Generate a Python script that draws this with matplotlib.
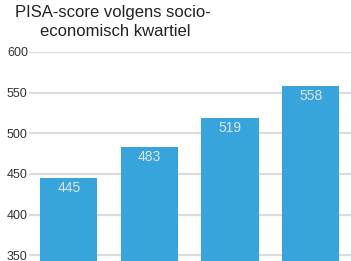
import numpy as np
import matplotlib.pyplot as plt

# data
kwartielen = ['1', '2', '3', '4']
scores = [445, 483, 519, 558]
yticks = [350, 400, 450, 500, 550, 600]

plt.rcParams['font.family'] = ['Liberation Sans', 'DejaVu Sans']

fig = plt.figure(figsize=(3.51, 2.61), dpi=100)
ax = fig.add_axes([28.5 / 351, 0, 1 - 28.5 / 351, 209 / 261])

x = np.arange(len(scores))
bars = ax.bar(x, scores, width=0.71, color='#38a4dc', zorder=3)

for xi, s in zip(x, scores):
    ax.text(xi, s - 4, str(s), ha='center', va='top', fontsize=10,
            color='#dde3ea', zorder=4)

ax.set_xlim(-0.5, 3.5)
ax.set_ylim(343, 600)
ax.set_yticks(yticks)
ax.set_xticks([])
ax.yaxis.grid(True, color='#dcdcdc', linewidth=1.6, zorder=0)
ax.tick_params(axis='y', length=0, pad=15.5, labelsize=9, labelcolor='#333333')
for lab in ax.get_yticklabels():
    lab.set_horizontalalignment('left')
for sp in ax.spines.values():
    sp.set_visible(False)

fig.text(113 / 351, 1 - 13 / 261, 'PISA-score \u2028volgens socio-', ha='center',
         va='center', fontsize=12, color='#222222')
fig.text(115 / 351, 1 - 31 / 261, 'economisch kwartiel', ha='center',
         va='center', fontsize=12, color='#222222')

fig.savefig('out.png', dpi=100)
